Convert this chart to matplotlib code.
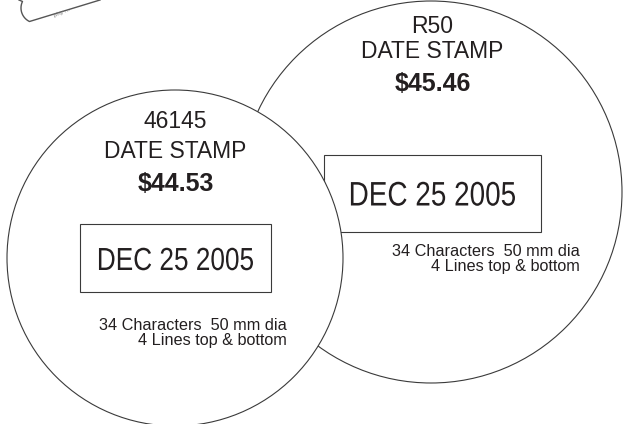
import numpy
import matplotlib
matplotlib.use('Agg')
import matplotlib.pyplot as pyplot
from matplotlib.patches import Circle, Rectangle
from matplotlib.patheffects import AbstractPathEffect
from matplotlib.transforms import Affine2D

# the two stamps, left one drawn on top
models = ['46145', 'R50']
names = ['DATE STAMP', 'DATE STAMP']
prices = ['$44.53', '$45.46']
date_text = 'DEC 25 2005'
spec_line1 = '34 Characters  50 mm dia'
spec_line2 = '4 Lines top & bottom'

INK = '#231f20'
EDGE = '#3a3a3a'
FONT = 'Liberation Sans'


class Squeeze(AbstractPathEffect):
    '''Narrow the glyphs around their centre (no condensed font installed).'''
    def __init__(self, sx):
        super().__init__()
        self.sx = sx

    def draw_path(self, renderer, gc, tpath, affine, rgbFace=None):
        ext = tpath.get_extents()
        c = (ext.x0 + ext.x1) / 2.
        pre = Affine2D().translate(-c, 0).scale(self.sx, 1).translate(c, 0)
        renderer.draw_path(gc, tpath, pre + affine, rgbFace)


fig = pyplot.figure(figsize=(6.29, 4.24), dpi=100)
ax = fig.add_axes([0, 0, 1, 1])
ax.set_xlim(0, 629)
ax.set_ylim(424, 0)
ax.axis('off')


def draw_stamp(ax, cx, cy, r, box, title_y, date_size, spec_x, spec_y, z, i):
    ax.add_patch(Circle((cx, cy), r, facecolor='white', edgecolor=EDGE,
                        linewidth=0.8, zorder=z))
    bx, by, bw, bh = box
    ax.add_patch(Rectangle((bx, by), bw, bh, facecolor='white', edgecolor=EDGE,
                           linewidth=0.8, zorder=z + 1))
    tx = bx + bw / 2.
    ax.text(tx, title_y[0], models[i], ha='center', va='baseline', fontsize=16.5,
            family=FONT, color=INK, zorder=z + 2)
    ax.text(tx, title_y[1], names[i], ha='center', va='baseline', fontsize=16.5,
            family=FONT, color=INK, zorder=z + 2)
    ax.text(tx, title_y[2], prices[i], ha='center', va='baseline', fontsize=18,
            family=FONT, weight='bold', color=INK, zorder=z + 2)
    ax.text(tx, by + bh / 2. + 12, date_text, ha='center', va='baseline',
            fontsize=date_size, family=FONT, color=INK, zorder=z + 2,
            path_effects=[Squeeze(0.82)])
    ax.text(spec_x, spec_y, spec_line1, ha='right', va='baseline', fontsize=11.7,
            family=FONT, color=INK, zorder=z + 2)
    ax.text(spec_x, spec_y + 15, spec_line2, ha='right', va='baseline', fontsize=11.7,
            family=FONT, color=INK, zorder=z + 2)


# right stamp (behind)
draw_stamp(ax, 431, 192, 191, (324, 155, 217, 77), (33, 58, 91), 24.5, 580, 256, 1, 1)
# left stamp (front)
draw_stamp(ax, 175, 258, 168, (80, 224, 191, 68), (128, 158, 191), 23, 287, 330, 10, 0)

# corner of a stamp picture poking in at the top left
t = numpy.linspace(numpy.pi, 1.5 * numpy.pi, 20)
arc_x = 36 + 15 * numpy.cos(t - 0.45)
arc_y = 8 - 15 * numpy.sin(t - 0.45)
px = numpy.concatenate([[19], arc_x, [100]])
py = numpy.concatenate([[0], arc_y, [0]])
ax.plot(px, py, color='#555555', linewidth=1.0, zorder=20)
ax.text(62, 12, 'phy ...', fontsize=4.5, rotation=22, color='#777777',
        family=FONT, ha='center', va='center', zorder=20)

pyplot.savefig('out.png', dpi=100)
